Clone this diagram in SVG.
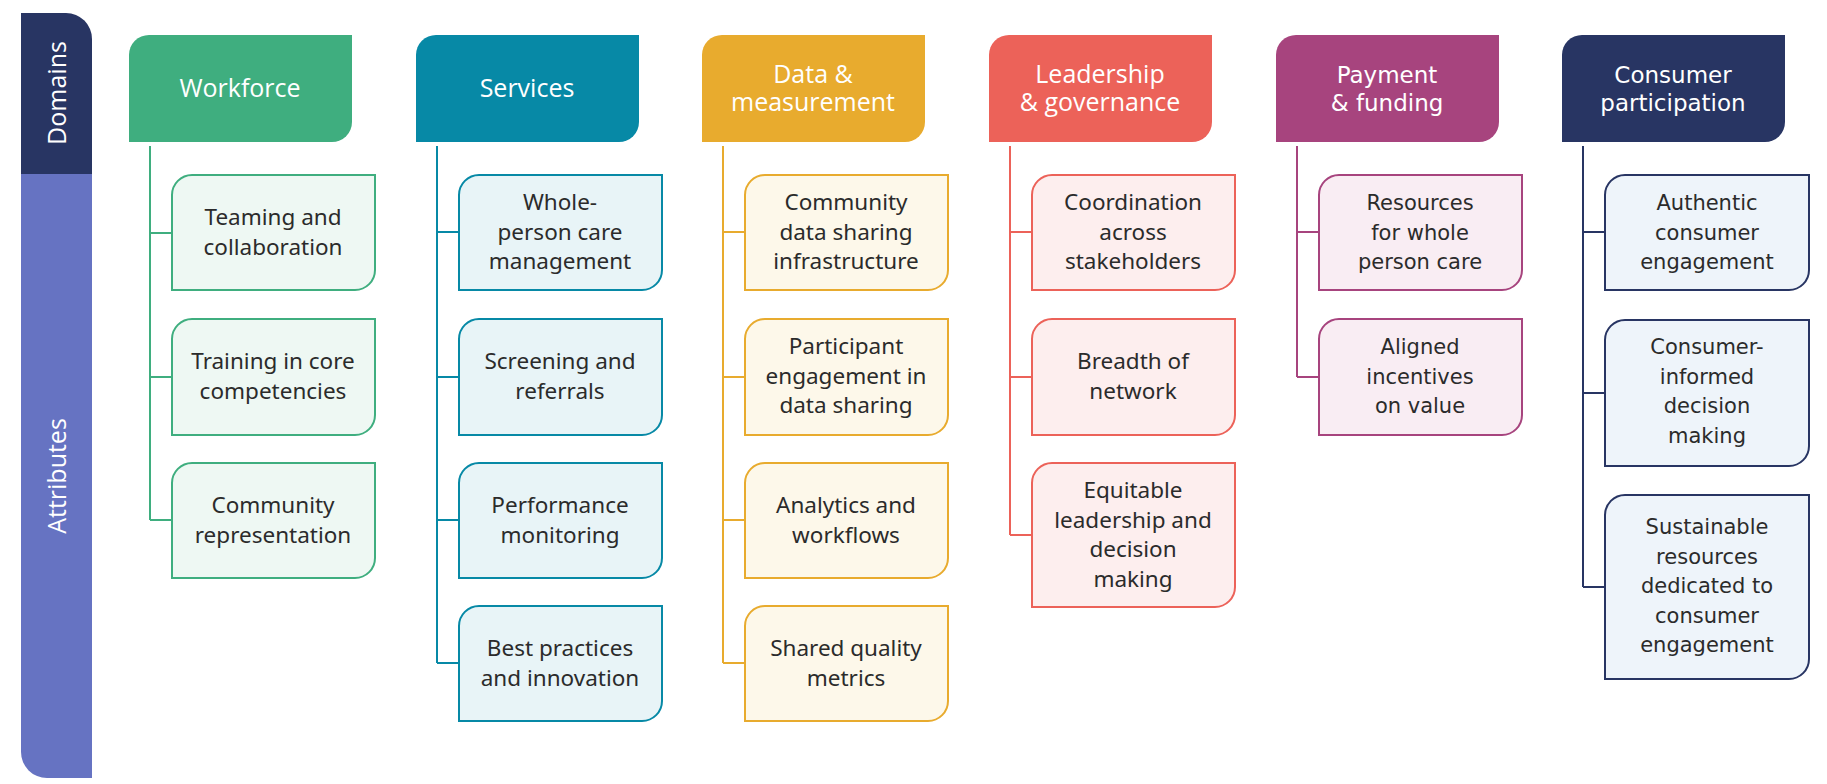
<svg xmlns="http://www.w3.org/2000/svg" width="1827" height="784" viewBox="0 0 1827 784">
<style>
.h{font-family:"Open Sans","Noto Sans",sans-serif;font-size:25px;fill:#fff;text-anchor:middle}
.c{font-family:"Noto Sans","Open Sans",sans-serif;font-size:22.5px;fill:#2b2b2b;text-anchor:middle}
.w{font-family:"DejaVu Sans",sans-serif;font-size:23px}
.wc{font-family:"DejaVu Sans",sans-serif;font-size:21px}
.side{font-family:"Open Sans",sans-serif;font-size:25px;fill:#fff;text-anchor:middle}
.ln{fill:none;stroke-width:2}
</style>
<rect width="1827" height="784" fill="#fff"/>
<g id="sidebar">
<path d="M21,13 H66 A26,26 0 0 1 92,39 V174 H21 Z" fill="#283563"/>
<path d="M21,174 H92 V778 H47 A26,26 0 0 1 21,752 Z" fill="#6673c2"/>
<text class="side" transform="translate(66,93) rotate(-90)">Domains</text>
<text class="side" transform="translate(66,476) rotate(-90)">Attributes</text>
</g>
<g id="connectors">
<path class="ln" stroke="#3fae7f" d="M150,146 V520 M150,233 H172 M150,377 H172 M150,520 H172"/>
<path class="ln" stroke="#0789a6" d="M437,146 V663 M437,232 H459 M437,377 H459 M437,520 H459 M437,663 H459"/>
<path class="ln" stroke="#e8ab2e" d="M723,146 V663 M723,232 H745 M723,377 H745 M723,520 H745 M723,663 H745"/>
<path class="ln" stroke="#ec6259" d="M1010,146 V535 M1010,232 H1032 M1010,377 H1032 M1010,535 H1032"/>
<path class="ln" stroke="#a7447e" d="M1297,146 V377 M1297,232 H1319 M1297,377 H1319"/>
<path class="ln" stroke="#283563" d="M1583,146 V587 M1583,232 H1605 M1583,393 H1605 M1583,587 H1605"/>
</g>
<g id="workforce">
<path d="M129,55 A20,20 0 0 1 149,35 H352 V122 A20,20 0 0 1 332,142 H129 Z" fill="#3fae7f"/>
<text class="h" x="240" y="97">Workforce</text>
</g>
<g id="services">
<path d="M416,55 A20,20 0 0 1 436,35 H639 V122 A20,20 0 0 1 619,142 H416 Z" fill="#0789a6"/>
<text class="h" x="527" y="97">Services</text>
</g>
<g id="data">
<path d="M702,55 A20,20 0 0 1 722,35 H925 V122 A20,20 0 0 1 905,142 H702 Z" fill="#e8ab2e"/>
<text class="h" x="813" y="83">Data &amp;</text><text class="h" x="813" y="111">measurement</text>
</g>
<g id="leadership">
<path d="M989,55 A20,20 0 0 1 1009,35 H1212 V122 A20,20 0 0 1 1192,142 H989 Z" fill="#ec6259"/>
<text class="h" x="1100" y="83">Leadership</text><text class="h" x="1100" y="111">&amp; governance</text>
</g>
<g id="payment">
<path d="M1276,55 A20,20 0 0 1 1296,35 H1499 V122 A20,20 0 0 1 1479,142 H1276 Z" fill="#a7447e"/>
<text class="h w" x="1387" y="83">Payment</text><text class="h w" x="1387" y="111">&amp; funding</text>
</g>
<g id="consumer">
<path d="M1562,55 A20,20 0 0 1 1582,35 H1785 V122 A20,20 0 0 1 1765,142 H1562 Z" fill="#283563"/>
<text class="h w" x="1673" y="83">Consumer</text><text class="h w" x="1673" y="111">participation</text>
</g>
<g id="wf1"><path d="M172,195 A20,20 0 0 1 192,175 H375 V270 A20,20 0 0 1 355,290 H172 Z" fill="#eef8f3" stroke="#3fae7f" stroke-width="2"/>
<text class="c" x="273" y="225">Teaming and</text><text class="c" x="273" y="255">collaboration</text></g>
<g id="wf2"><path d="M172,339 A20,20 0 0 1 192,319 H375 V415 A20,20 0 0 1 355,435 H172 Z" fill="#eef8f3" stroke="#3fae7f" stroke-width="2"/>
<text class="c" x="273" y="369">Training in core</text><text class="c" x="273" y="399">competencies</text></g>
<g id="wf3"><path d="M172,483 A20,20 0 0 1 192,463 H375 V558 A20,20 0 0 1 355,578 H172 Z" fill="#eef8f3" stroke="#3fae7f" stroke-width="2"/>
<text class="c" x="273" y="513">Community</text><text class="c" x="273" y="543">representation</text></g>
<g id="sv1"><path d="M459,195 A20,20 0 0 1 479,175 H662 V270 A20,20 0 0 1 642,290 H459 Z" fill="#e8f4f7" stroke="#0789a6" stroke-width="2"/>
<text class="c" x="560" y="210">Whole-</text><text class="c" x="560" y="240">person care</text><text class="c" x="560" y="269">management</text></g>
<g id="sv2"><path d="M459,339 A20,20 0 0 1 479,319 H662 V415 A20,20 0 0 1 642,435 H459 Z" fill="#e8f4f7" stroke="#0789a6" stroke-width="2"/>
<text class="c" x="560" y="369">Screening and</text><text class="c" x="560" y="399">referrals</text></g>
<g id="sv3"><path d="M459,483 A20,20 0 0 1 479,463 H662 V558 A20,20 0 0 1 642,578 H459 Z" fill="#e8f4f7" stroke="#0789a6" stroke-width="2"/>
<text class="c" x="560" y="513">Performance</text><text class="c" x="560" y="543">monitoring</text></g>
<g id="sv4"><path d="M459,626 A20,20 0 0 1 479,606 H662 V701 A20,20 0 0 1 642,721 H459 Z" fill="#e8f4f7" stroke="#0789a6" stroke-width="2"/>
<text class="c" x="560" y="656">Best practices</text><text class="c" x="560" y="686">and innovation</text></g>
<g id="dm1"><path d="M745,195 A20,20 0 0 1 765,175 H948 V270 A20,20 0 0 1 928,290 H745 Z" fill="#fdf8ea" stroke="#e8ab2e" stroke-width="2"/>
<text class="c" x="846" y="210">Community</text><text class="c" x="846" y="240">data sharing</text><text class="c" x="846" y="269">infrastructure</text></g>
<g id="dm2"><path d="M745,339 A20,20 0 0 1 765,319 H948 V415 A20,20 0 0 1 928,435 H745 Z" fill="#fdf8ea" stroke="#e8ab2e" stroke-width="2"/>
<text class="c" x="846" y="354">Participant</text><text class="c" x="846" y="384">engagement in</text><text class="c" x="846" y="413">data sharing</text></g>
<g id="dm3"><path d="M745,483 A20,20 0 0 1 765,463 H948 V558 A20,20 0 0 1 928,578 H745 Z" fill="#fdf8ea" stroke="#e8ab2e" stroke-width="2"/>
<text class="c" x="846" y="513">Analytics and</text><text class="c" x="846" y="543">workflows</text></g>
<g id="dm4"><path d="M745,626 A20,20 0 0 1 765,606 H948 V701 A20,20 0 0 1 928,721 H745 Z" fill="#fdf8ea" stroke="#e8ab2e" stroke-width="2"/>
<text class="c" x="846" y="656">Shared quality</text><text class="c" x="846" y="686">metrics</text></g>
<g id="lg1"><path d="M1032,195 A20,20 0 0 1 1052,175 H1235 V270 A20,20 0 0 1 1215,290 H1032 Z" fill="#fdeeee" stroke="#ec6259" stroke-width="2"/>
<text class="c" x="1133" y="210">Coordination</text><text class="c" x="1133" y="240">across</text><text class="c" x="1133" y="269">stakeholders</text></g>
<g id="lg2"><path d="M1032,339 A20,20 0 0 1 1052,319 H1235 V415 A20,20 0 0 1 1215,435 H1032 Z" fill="#fdeeee" stroke="#ec6259" stroke-width="2"/>
<text class="c" x="1133" y="369">Breadth of</text><text class="c" x="1133" y="399">network</text></g>
<g id="lg3"><path d="M1032,483 A20,20 0 0 1 1052,463 H1235 V587 A20,20 0 0 1 1215,607 H1032 Z" fill="#fdeeee" stroke="#ec6259" stroke-width="2"/>
<text class="c" x="1133" y="498">Equitable</text><text class="c" x="1133" y="528">leadership and</text><text class="c" x="1133" y="557">decision</text><text class="c" x="1133" y="587">making</text></g>
<g id="pf1"><path d="M1319,195 A20,20 0 0 1 1339,175 H1522 V270 A20,20 0 0 1 1502,290 H1319 Z" fill="#f9edf3" stroke="#a7447e" stroke-width="2"/>
<text class="c wc" x="1420" y="210">Resources</text><text class="c wc" x="1420" y="240">for whole</text><text class="c wc" x="1420" y="269">person care</text></g>
<g id="pf2"><path d="M1319,339 A20,20 0 0 1 1339,319 H1522 V415 A20,20 0 0 1 1502,435 H1319 Z" fill="#f9edf3" stroke="#a7447e" stroke-width="2"/>
<text class="c wc" x="1420" y="354">Aligned</text><text class="c wc" x="1420" y="384">incentives</text><text class="c wc" x="1420" y="413">on value</text></g>
<g id="cp1"><path d="M1605,195 A20,20 0 0 1 1625,175 H1809 V270 A20,20 0 0 1 1789,290 H1605 Z" fill="#eef4fa" stroke="#283563" stroke-width="2"/>
<text class="c wc" x="1707" y="210">Authentic</text><text class="c wc" x="1707" y="240">consumer</text><text class="c wc" x="1707" y="269">engagement</text></g>
<g id="cp2"><path d="M1605,340 A20,20 0 0 1 1625,320 H1809 V446 A20,20 0 0 1 1789,466 H1605 Z" fill="#eef4fa" stroke="#283563" stroke-width="2"/>
<text class="c wc" x="1707" y="354">Consumer-</text><text class="c wc" x="1707" y="384">informed</text><text class="c wc" x="1707" y="413">decision</text><text class="c wc" x="1707" y="443">making</text></g>
<g id="cp3"><path d="M1605,515 A20,20 0 0 1 1625,495 H1809 V659 A20,20 0 0 1 1789,679 H1605 Z" fill="#eef4fa" stroke="#283563" stroke-width="2"/>
<text class="c wc" x="1707" y="534">Sustainable</text><text class="c wc" x="1707" y="564">resources</text><text class="c wc" x="1707" y="593">dedicated to</text><text class="c wc" x="1707" y="623">consumer</text><text class="c wc" x="1707" y="652">engagement</text></g>
</svg>
